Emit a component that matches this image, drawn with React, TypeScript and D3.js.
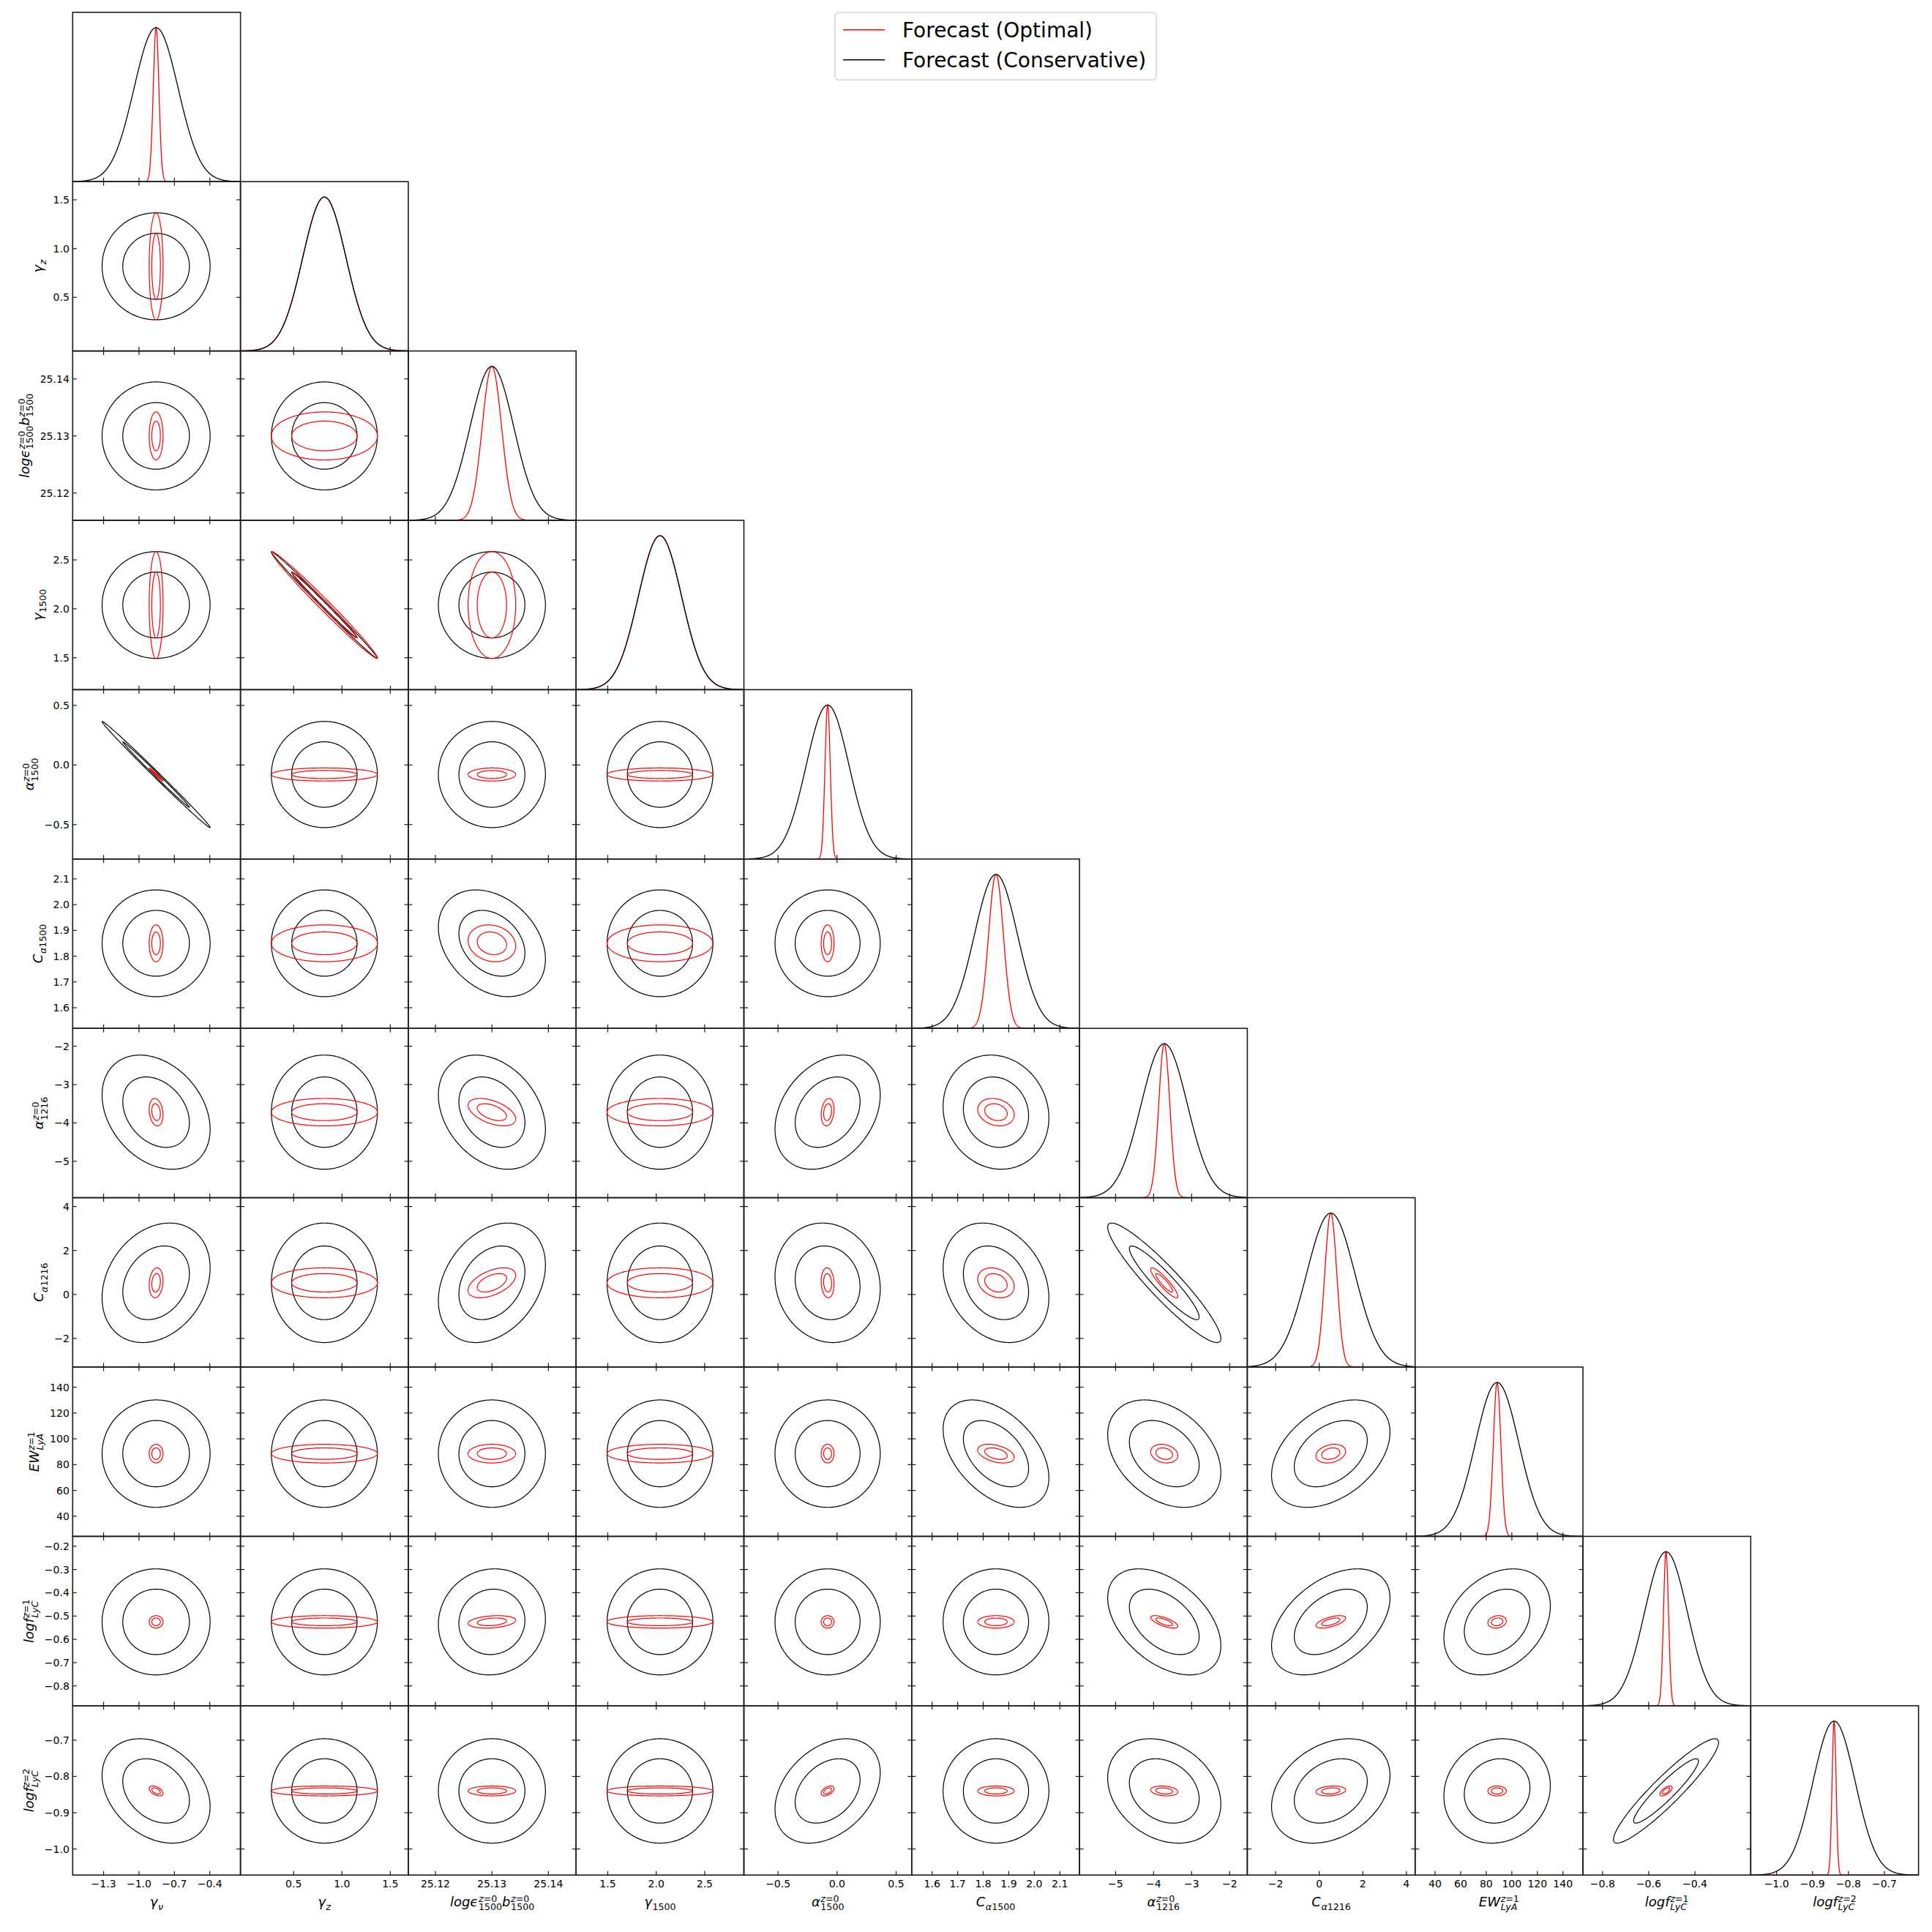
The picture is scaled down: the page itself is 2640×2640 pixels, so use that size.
import React, { useEffect, useRef } from "react";
import * as d3 from "d3";

// ---------------- data ----------------
// label segments: base text with optional superscript / subscript
const paramLabels = [
  [{ b: "γ", sub: "ν" }],
  [{ b: "γ", sub: "z" }],
  [{ b: "logϵ", sup: "z=0", sub: "1500" }, { b: "b", sup: "z=0", sub: "1500" }],
  [{ b: "γ", sub: "1500" }],
  [{ b: "α", sup: "z=0", sub: "1500" }],
  [{ b: "C", sub: "α1500" }],
  [{ b: "α", sup: "z=0", sub: "1216" }],
  [{ b: "C", sub: "α1216" }],
  [{ b: "EW", sup: "z=1", sub: "LyA" }],
  [{ b: "logf", sup: "z=1", sub: "LyC" }],
  [{ b: "logf", sup: "z=2", sub: "LyC" }],
];

const means = [-0.855, 0.818, 25.13, 2.039, -0.08, 1.85, -3.72, 0.53, 88.5, -0.525, -0.84];
const sigmaConservative = [0.187, 0.224, 0.00387, 0.223, 0.182, 0.0846, 0.608, 1.11, 17.0, 0.093, 0.0588];
const sigmaOptimal = [0.024, 0.224, 0.00172, 0.223, 0.0223, 0.0292, 0.146, 0.278, 2.95, 0.0109, 0.0056];

const domainLo = [-1.562, -0.05, 25.1152, 1.173, -0.789, 1.52, -5.95, -3.3, 24.4, -0.885, -1.072];
const domainHi = [-0.14, 1.686, 25.1449, 2.905, 0.632, 2.177, -1.535, 4.4, 155.6, -0.158, -0.605];

const xTickValues = [
  [-1.3, -1.0, -0.7, -0.4],
  [0.5, 1.0, 1.5],
  [25.12, 25.13, 25.14],
  [1.5, 2.0, 2.5],
  [-0.5, 0.0, 0.5],
  [1.6, 1.7, 1.8, 1.9, 2.0, 2.1],
  [-5, -4, -3, -2],
  [-2, 0, 2, 4],
  [40, 60, 80, 100, 120, 140],
  [-0.8, -0.6, -0.4],
  [-1.0, -0.9, -0.8, -0.7],
];
const yTickValues = [
  [],
  [0.5, 1.0, 1.5],
  [25.12, 25.13, 25.14],
  [1.5, 2.0, 2.5],
  [-0.5, 0.0, 0.5],
  [1.6, 1.7, 1.8, 1.9, 2.0, 2.1],
  [-5, -4, -3, -2],
  [-2, 0, 2, 4],
  [40, 60, 80, 100, 120, 140],
  [-0.8, -0.7, -0.6, -0.5, -0.4, -0.3, -0.2],
  [-1.0, -0.9, -0.8, -0.7],
];
const tickDecimals = [1, 1, 2, 1, 1, 1, 0, 0, 0, 1, 1];

// [row, col, rho conservative, rho optimal]; unlisted pairs are uncorrelated
const correlations = [
  [3, 1, -0.996, -0.99],
  [4, 0, -0.997, -0.99],
  [5, 2, -0.3, -0.15],
  [6, 0, -0.3, -0.2],
  [6, 2, -0.3, -0.5],
  [6, 4, 0.3, 0.2],
  [6, 5, -0.1, -0.2],
  [7, 0, 0.25, 0.15],
  [7, 2, 0.3, 0.5],
  [7, 4, -0.1, -0.1],
  [7, 5, -0.25, -0.25],
  [7, 6, -0.93, -0.9],
  [8, 5, -0.45, -0.4],
  [8, 6, -0.35, -0.2],
  [8, 7, 0.4, 0.25],
  [9, 2, 0.05, 0.25],
  [9, 6, -0.45, -0.7],
  [9, 7, 0.45, 0.6],
  [9, 8, 0.3, 0.15],
  [10, 0, -0.3, -0.5],
  [10, 4, 0.35, 0.5],
  [10, 6, -0.25, -0.2],
  [10, 7, 0.3, 0.2],
  [10, 8, 0.1, 0.0],
  [10, 9, 0.93, 0.65],
];

const contourLevels = [0.68, 0.95];
const seriesNames = ["Forecast (Optimal)", "Forecast (Conservative)"];
const seriesColors = ["#ff0000", "#000000"];

const FONT = "DejaVu Sans";

function appendRuns(t, str) {
  const re = /([0-9=]+)|([^0-9=]+)/g;
  let m;
  while ((m = re.exec(str))) {
    t.append("tspan").attr("font-style", m[1] ? "normal" : "italic").text(m[0]);
  }
}

function drawMath(g, segs, fs) {
  let x = 0;
  segs.forEach((s) => {
    const t = g.append("text").attr("x", x).attr("y", 0).attr("font-size", fs);
    appendRuns(t, s.b);
    x += t.node().getComputedTextLength();
    let w = 0;
    if (s.sup) {
      const ts = g.append("text").attr("x", x + 0.6).attr("y", -0.33 * fs).attr("font-size", 0.7 * fs);
      appendRuns(ts, s.sup);
      w = Math.max(w, ts.node().getComputedTextLength() + 0.6);
    }
    if (s.sub) {
      const tb = g.append("text").attr("x", x + 0.6).attr("y", 0.32 * fs).attr("font-size", 0.7 * fs);
      appendRuns(tb, s.sub);
      w = Math.max(w, tb.node().getComputedTextLength() + 0.6);
    }
    x += w;
  });
  return x;
}

export default function App() {
  const ref = useRef(null);
  useEffect(() => {
    const svg = d3.select(ref.current);
    svg.selectAll("*").remove();
    svg.attr("font-family", FONT);
    const n = means.length;
    const left = 99.3, top = 16.8, pw = 229.3, ph = 231.4;
    const tickLen = 5.5;
    const tickFs = 14, labelFs = 18;
    const frameColor = "#1a1a1a";
    const xs = means.map((_, i) => d3.scaleLinear().domain([domainLo[i], domainHi[i]]).range([0, pw]));
    const ys = means.map((_, i) => d3.scaleLinear().domain([domainLo[i], domainHi[i]]).range([ph, 0]));
    const yd = d3.scaleLinear().domain([0, 1.1]).range([ph, 0]);
    const line = d3.line().x((d) => d[0]).y((d) => d[1]);
    const sigmas = [sigmaOptimal, sigmaConservative];
    const rho = (i, j, s) => {
      const p = correlations.find((c) => c[0] === i && c[1] === j);
      return p ? (s === 0 ? p[3] : p[2]) : 0;
    };
    const defs = svg.append("defs");

    for (let i = 0; i < n; i++) {
      for (let j = 0; j <= i; j++) {
        const g = svg.append("g").attr("transform", `translate(${left + j * pw},${top + i * ph})`);
        const cid = `clip-${i}-${j}`;
        defs.append("clipPath").attr("id", cid).append("rect").attr("width", pw).attr("height", ph);
        const inner = g.append("g").attr("clip-path", `url(#${cid})`);
        if (i === j) {
          const grid = d3.range(0, 801).map((k) => domainLo[i] + ((domainHi[i] - domainLo[i]) * k) / 800);
          [0, 1].forEach((s) => {
            const sg = sigmas[s][i];
            const pts = grid.map((x) => [xs[i](x), yd(Math.exp(-0.5 * ((x - means[i]) / sg) ** 2))]);
            inner.append("path").attr("d", line(pts)).attr("fill", "none")
              .attr("stroke", seriesColors[s]).attr("stroke-width", 1.3);
          });
        } else {
          [1, 0].forEach((s) => {
            const sx = sigmas[s][j], sy = sigmas[s][i], r = rho(i, j, s);
            const c = Math.sqrt(1 - r * r);
            contourLevels.forEach((p) => {
              const k = Math.sqrt(-2 * Math.log(1 - p));
              const pts = d3.range(0, 361).map((a) => {
                const t = (a * Math.PI) / 180;
                const u = k * Math.cos(t), v = k * Math.sin(t);
                return [xs[j](means[j] + sx * u), ys[i](means[i] + sy * (r * u + c * v))];
              });
              inner.append("path").attr("d", line(pts) + "Z").attr("fill", "none")
                .attr("stroke", seriesColors[s]).attr("stroke-width", 1.2);
            });
          });
        }
        g.append("rect").attr("width", pw).attr("height", ph).attr("fill", "none")
          .attr("stroke", frameColor).attr("stroke-width", 1.6);
        // ticks
        xTickValues[j].forEach((v) => {
          const x = xs[j](v);
          g.append("line").attr("x1", x).attr("x2", x).attr("y1", ph).attr("y2", ph - tickLen)
            .attr("stroke", frameColor).attr("stroke-width", 1.2);
          if (i !== j) {
            g.append("line").attr("x1", x).attr("x2", x).attr("y1", 0).attr("y2", tickLen)
              .attr("stroke", frameColor).attr("stroke-width", 1.2);
          }
        });
        if (i !== j) {
          yTickValues[i].forEach((v) => {
            const y = ys[i](v);
            g.append("line").attr("x1", 0).attr("x2", tickLen).attr("y1", y).attr("y2", y)
              .attr("stroke", frameColor).attr("stroke-width", 1.2);
            g.append("line").attr("x1", pw - tickLen).attr("x2", pw).attr("y1", y).attr("y2", y)
              .attr("stroke", frameColor).attr("stroke-width", 1.2);
          });
        }
      }
    }

    // bottom x tick labels and axis labels
    const bottom = top + n * ph;
    for (let j = 0; j < n; j++) {
      const fmt = d3.format(`.${tickDecimals[j]}f`);
      const x0 = left + j * pw;
      xTickValues[j].forEach((v) => {
        svg.append("text").attr("x", x0 + xs[j](v)).attr("y", bottom + 17)
          .attr("text-anchor", "middle").attr("font-size", tickFs).text(fmt(v));
      });
      const lg = svg.append("g");
      const w = drawMath(lg, paramLabels[j], labelFs);
      lg.attr("transform", `translate(${x0 + pw / 2 - w / 2},${bottom + 42.5})`);
    }
    // left y tick labels and axis labels
    for (let i = 1; i < n; i++) {
      const fmt = d3.format(`.${tickDecimals[i]}f`);
      const y0 = top + i * ph;
      let maxW = 0;
      yTickValues[i].forEach((v) => {
        const t = svg.append("text").attr("x", left - 4.5).attr("y", y0 + ys[i](v)).attr("dy", "0.36em")
          .attr("text-anchor", "end").attr("font-size", tickFs).text(fmt(v));
        maxW = Math.max(maxW, t.node().getComputedTextLength());
      });
      const lg = svg.append("g");
      const w = drawMath(lg, paramLabels[i], labelFs);
      const bx = left - 4.5 - maxW - 15;
      lg.attr("transform", `translate(${bx},${y0 + ph / 2}) rotate(-90) translate(${-w / 2},0)`);
    }

    // legend
    const leg = svg.append("g");
    leg.append("rect").attr("x", 1141).attr("y", 17.3).attr("width", 439).attr("height", 92)
      .attr("rx", 5).attr("fill", "#fff").attr("fill-opacity", 0.8)
      .attr("stroke", "#d3d3d3").attr("stroke-width", 1.5);
    seriesNames.forEach((name, k) => {
      const ly = 40.7 + k * 41;
      leg.append("line").attr("x1", 1152).attr("x2", 1209).attr("y1", ly).attr("y2", ly)
        .attr("stroke", seriesColors[k]).attr("stroke-width", 1.5);
      leg.append("text").attr("x", 1233).attr("y", 51 + k * 40.5).attr("font-size", 28).text(name);
    });
  }, []);

  return (
    <svg
      ref={ref}
      width={2640}
      height={2640}
      style={{ position: "absolute", left: 0, top: 0, background: "#fff" }}
    />
  );
}
